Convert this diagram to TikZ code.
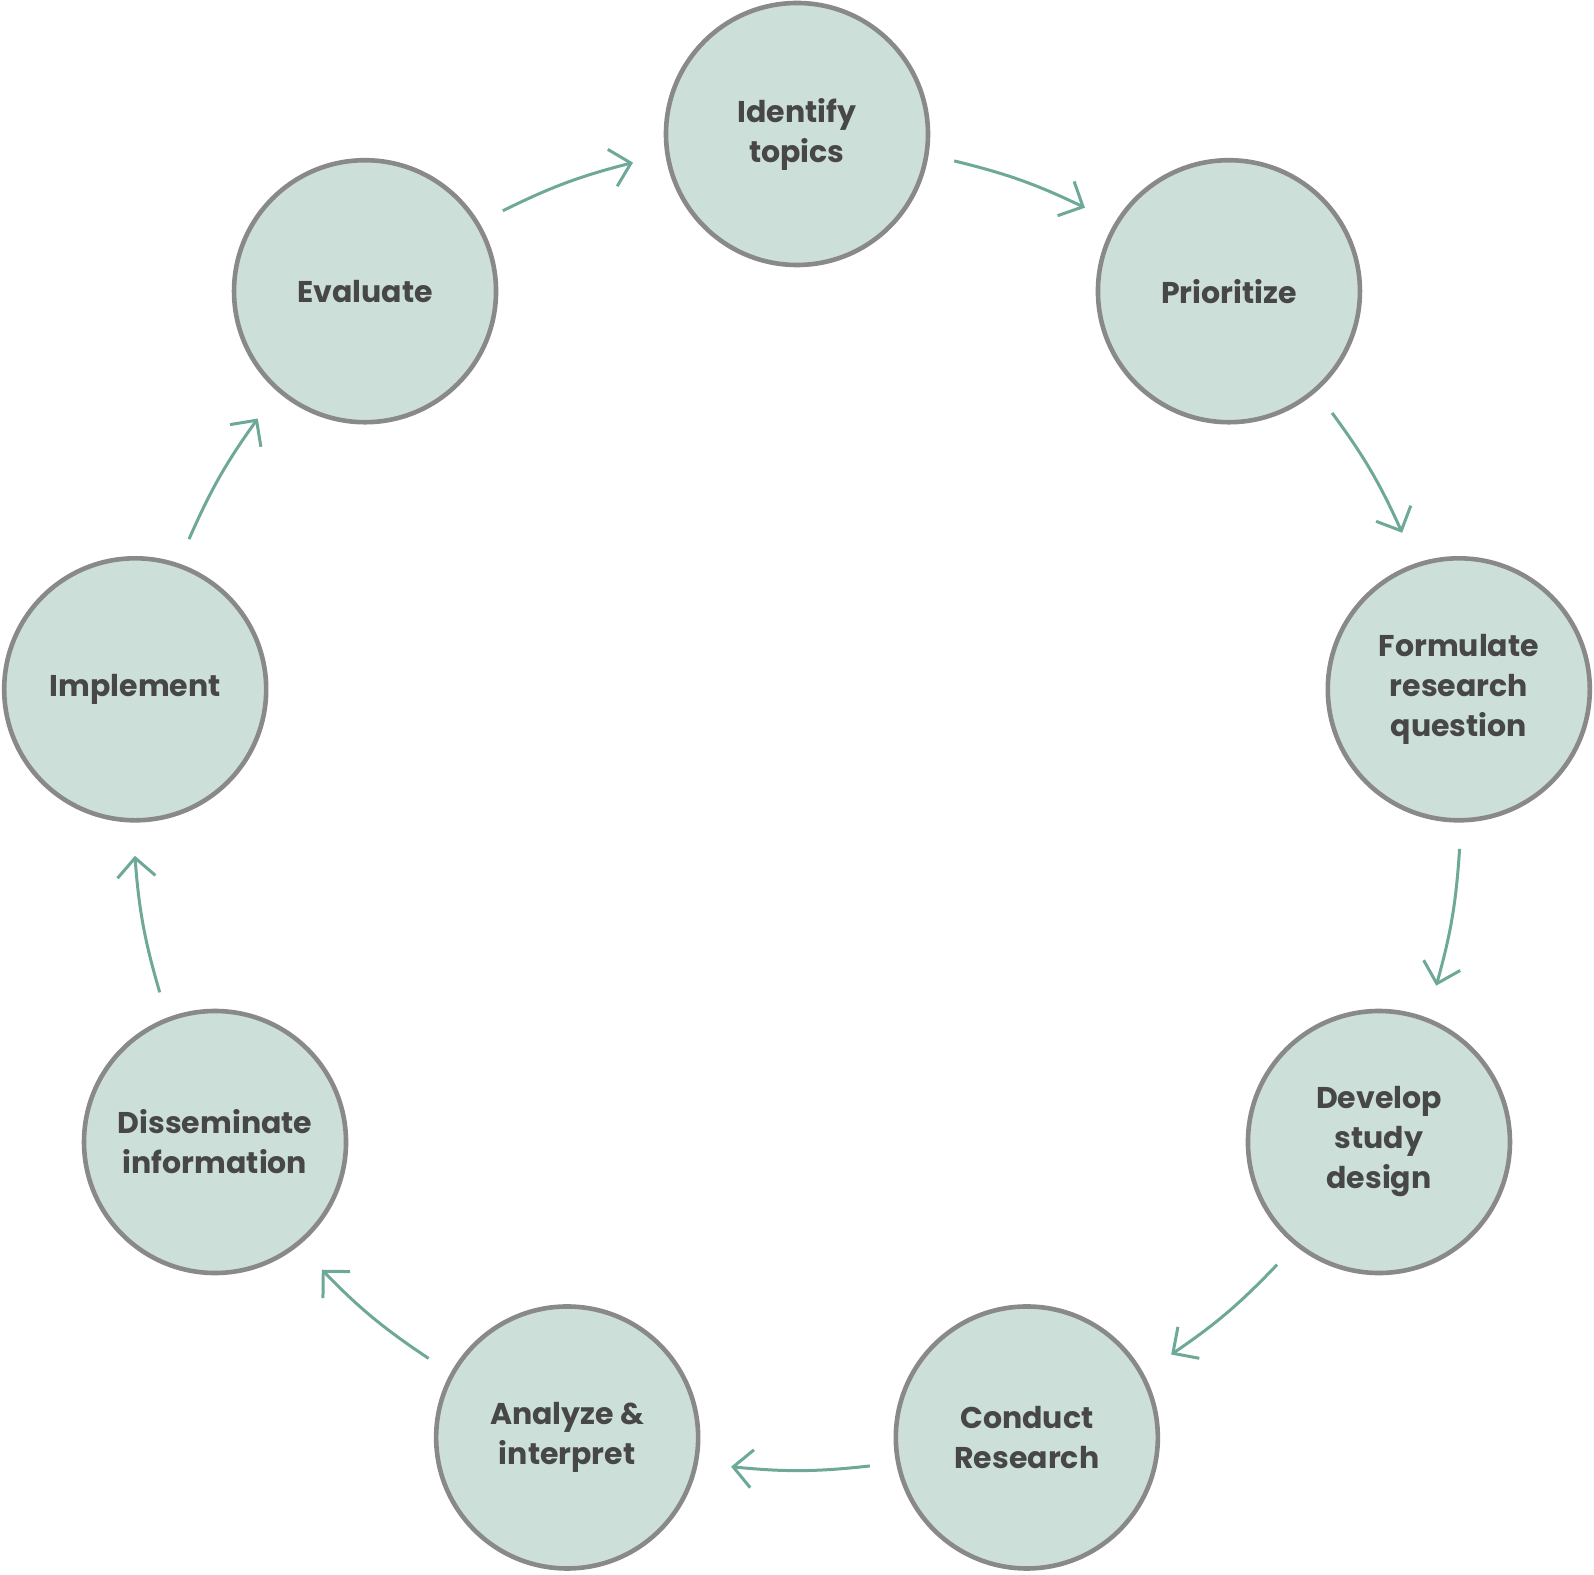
\documentclass[tikz,border=0pt]{standalone}
\usepackage{fontspec}
\setmainfont{Poppins}
\usetikzlibrary{arrows.meta}
\definecolor{fillc}{HTML}{CDDFD9}
\definecolor{bordc}{HTML}{898989}
\definecolor{txtc}{HTML}{474747}
\definecolor{arrc}{HTML}{6DA898}
\tikzset{
  stage/.style={circle, draw=bordc, fill=fillc, line width=2.3pt, minimum size=131pt,
    inner sep=0pt, align=center, text=txtc, font=\fontsize{15}{20}\selectfont\bfseries},
  flow/.style={draw=arrc, line width=1.5pt, bend left=6,
    -{Straight Barb[length=9.5pt,width=19pt]}}
}
\begin{document}
\begin{tikzpicture}[x=0.5pt,y=0.5pt]
\useasboundingbox (-797,-768) rectangle (797,806);
\node[stage] (identify) at (90:672) {Identify\\topics};
\node[stage] (prioritize) at (50:672) {Prioritize};
\node[stage] (formulate) at (10:672) {Formulate\\research\\question};
\node[stage] (develop) at (-30:672) {Develop\\study\\design};
\node[stage] (conduct) at (-70:672) {Conduct\\Research};
\node[stage] (analyze) at (-110:672) {Analyze \&\\interpret};
\node[stage] (dissem) at (-150:672) {Disseminate\\information};
\node[stage] (implement) at (170:672) {Implement};
\node[stage] (evaluate) at (130:672) {Evaluate};
\foreach \n/\a in {identify/90, prioritize/50, formulate/10, develop/-30, conduct/-70,
                   analyze/-110, dissem/-150, implement/170, evaluate/130}{
  \coordinate (\n-out) at ({\a-13.7}:664);
  \coordinate (\n-in) at ({\a+14.3}:664);
}
\draw[flow] (identify-out) to (prioritize-in);
\draw[flow] (prioritize-out) to (formulate-in);
\draw[flow] (formulate-out) to (develop-in);
\draw[flow] (develop-out) to (conduct-in);
\draw[flow] (conduct-out) to (analyze-in);
\draw[flow] (analyze-out) to (dissem-in);
\draw[flow] (dissem-out) to (implement-in);
\draw[flow] (implement-out) to (evaluate-in);
\draw[flow] (evaluate-out) to (identify-in);
\end{tikzpicture}
\end{document}
